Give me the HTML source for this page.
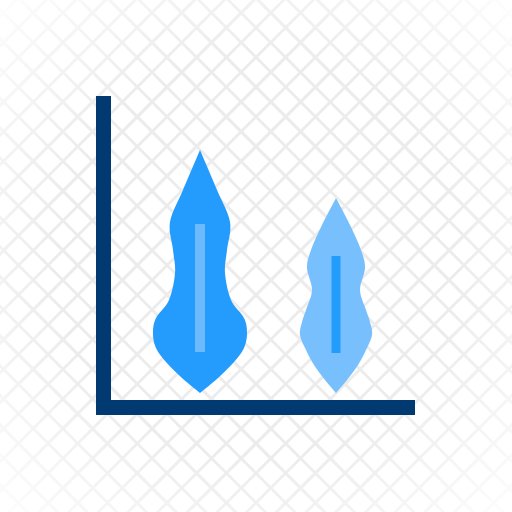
<!DOCTYPE html>
<html><head><meta charset="utf-8"><style>
html,body{margin:0;padding:0;background:#fff}
#wrap{position:relative;width:512px;height:512px;overflow:hidden}
#bg{position:absolute;inset:0;
background:
repeating-linear-gradient(45deg,transparent 0 18px,#ececec 18px 21px),
repeating-linear-gradient(-45deg,transparent 0 18px,#ececec 18px 21px);}
#fade{position:absolute;inset:0;background:radial-gradient(ellipse at center,rgba(255,255,255,0) 55%,rgba(255,255,255,0.9) 100%)}
svg{position:absolute;left:0;top:0}
</style></head><body>
<div id="wrap">
<div id="bg"></div>
<div id="fade"></div>
<svg id="chart" width="512" height="512">
<rect x="96" y="96" width="15" height="319" fill="#003a70"/>
<rect x="96" y="400" width="319" height="15" fill="#003a70"/>
</svg>
</div>
<script>
const categories=["A","B"];
const centers=[200,336];
const profileY=[[150,190,222,250,273,300,318,333,348,362,378,393],[198,225,250,268,290,310,322,335,350,365,380,393]];
const profileW=[[0,17,30,27,25,31,44,47,44,34,18,0],[0,14,25,29,24,30,34,36,30,22,11,0]];
const boxLow=[352,353];
const boxHigh=[224,256];
const fills=["#239cfe","#78bffd"];
const innerFills=["#6cb9fb","#239cfd"];
const innerW=[10,9];
const svg=document.getElementById('chart');
const NS="http://www.w3.org/2000/svg";
function spline(pts){
  let d=`M${pts[0][0]},${pts[0][1]}`;
  for(let i=0;i<pts.length-1;i++){
    const p0=pts[Math.max(i-1,0)],p1=pts[i],p2=pts[i+1],p3=pts[Math.min(i+2,pts.length-1)];
    const c1=[p1[0]+(p2[0]-p0[0])/6,p1[1]+(p2[1]-p0[1])/6];
    const c2=[p2[0]-(p3[0]-p1[0])/6,p2[1]-(p3[1]-p1[1])/6];
    d+=` C${c1[0]},${c1[1]} ${c2[0]},${c2[1]} ${p2[0]},${p2[1]}`;
  }
  return d;
}
categories.forEach((c,i)=>{
  const cx=centers[i];
  const right=profileY[i].map((y,k)=>[cx+profileW[i][k],y]);
  const left=profileY[i].map((y,k)=>[cx-profileW[i][k],y]).reverse();
  let d=spline(right)+" "+spline(left).replace(/^M/,'L')+"Z";
  const p=document.createElementNS(NS,'path');
  p.setAttribute('d',d);p.setAttribute('fill',fills[i]);
  
  
  svg.appendChild(p);
  const r=document.createElementNS(NS,'rect');
  r.setAttribute('x',cx-innerW[i]/2);r.setAttribute('y',boxHigh[i]);
  r.setAttribute('width',innerW[i]);r.setAttribute('height',boxLow[i]-boxHigh[i]);
  r.setAttribute('fill',innerFills[i]);
  
  
  svg.appendChild(r);
});
</script>
</body></html>
